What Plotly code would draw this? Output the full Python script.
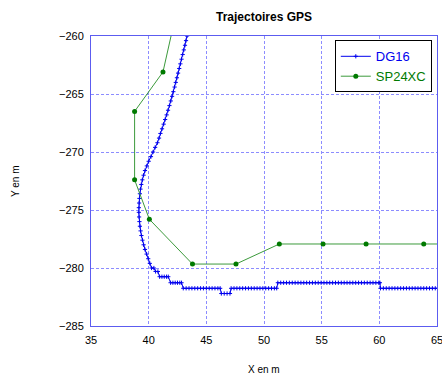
import plotly.graph_objects as go

# ---- DG16 (dense GPS track) ----
dg_curve_x = [43.42, 43.33, 43.24, 43.15, 43.05, 42.95, 42.85, 42.75, 42.65, 42.55,
              42.45, 42.35, 42.25, 42.14, 42.03, 41.92, 41.80, 41.68, 41.56, 41.43,
              41.30, 41.16, 41.02, 40.90, 40.76, 40.56, 40.38, 40.20, 40.00, 39.84,
              39.68, 39.56, 39.45, 39.36, 39.29, 39.24, 39.20, 39.17, 39.15, 39.15,
              39.17, 39.20, 39.24, 39.30, 39.37, 39.46, 39.56, 39.68, 39.82, 39.96,
              40.10, 40.25, 40.45, 40.60, 40.80, 40.95, 41.15, 41.35, 41.55, 41.70,
              41.90, 42.10, 42.30, 42.50, 42.70, 42.85]
dg_curve_y = [-259.6, -260.0, -260.4, -260.8, -261.2, -261.6, -262.0, -262.4, -262.8, -263.2,
              -263.6, -264.0, -264.4, -264.8, -265.2, -265.6, -266.0, -266.4, -266.8, -267.2,
              -267.6, -268.0, -268.4, -268.8, -269.2, -269.6, -270.0, -270.4, -270.8, -271.2,
              -271.6, -272.0, -272.4, -272.8, -273.2, -273.6, -274.0, -274.4, -274.8, -275.2,
              -275.6, -276.0, -276.4, -276.8, -277.2, -277.6, -278.0, -278.4, -278.8, -279.2,
              -279.6, -280.0, -280.0, -280.3, -280.3, -280.75, -280.75, -280.75, -280.75, -280.75,
              -281.27, -281.27, -281.27, -281.27, -281.27, -281.27]
dg_flat1_x = [43.0, 43.25, 43.5, 43.75, 44.0, 44.25, 44.5, 44.75, 45.0, 45.25, 45.5, 45.75, 46.0, 46.2]
dg_flat1_y = -281.75
dg_dip_x = [46.3, 46.55, 46.8, 47.05]
dg_dip_y = -282.2
dg_flat2_x = [47.15, 47.4, 47.65, 47.9, 48.15, 48.4, 48.65, 48.9, 49.15, 49.4, 49.65, 49.9,
              50.15, 50.4, 50.65, 50.9, 51.1]
dg_flat2_y = -281.75
dg_flat3_x = [51.2, 51.45, 51.7, 51.95, 52.2, 52.45, 52.7, 52.95, 53.2, 53.45, 53.7, 53.95,
              54.2, 54.45, 54.7, 54.95, 55.2, 55.45, 55.7, 55.95, 56.2, 56.45, 56.7, 56.95,
              57.2, 57.45, 57.7, 57.95, 58.2, 58.45, 58.7, 58.95, 59.2, 59.45, 59.7, 59.95, 60.05]
dg_flat3_y = -281.27
dg_flat4_x = [60.1, 60.35, 60.6, 60.85, 61.1, 61.35, 61.6, 61.85, 62.1, 62.35, 62.6, 62.85,
              63.1, 63.35, 63.6, 63.85, 64.1, 64.35, 64.6, 64.85, 65.1]
dg_flat4_y = -281.75

# ---- SP24XC (sparse GPS track) ----
sp_x = [42.55, 41.24, 38.78, 38.78, 40.06, 43.80, 47.57, 51.33, 55.12, 58.85, 63.85, 67.5]
sp_y = [-257.3, -263.1, -266.5, -272.4, -275.8, -279.66, -279.66, -277.93, -277.93, -277.93, -277.93, -277.93]

dg_x = list(dg_curve_x)
dg_y = list(dg_curve_y)
for xs, yv in [(dg_flat1_x, dg_flat1_y), (dg_dip_x, dg_dip_y), (dg_flat2_x, dg_flat2_y),
               (dg_flat3_x, dg_flat3_y), (dg_flat4_x, dg_flat4_y)]:
    dg_x += xs
    dg_y += [yv] * len(xs)

FONT = "Liberation Sans, Arial"

fig = go.Figure()
fig.add_trace(go.Scatter(
    x=dg_x, y=dg_y, mode="lines+markers",
    name="<span style='color:#0000ee'>DG16</span>",
    line=dict(color="#0000ee", width=1),
    marker=dict(symbol="cross-thin", size=3, line=dict(color="#0000ee", width=1)),
))
fig.add_trace(go.Scatter(
    x=sp_x, y=sp_y, mode="lines+markers",
    name="<span style='color:#007a00'>SP24XC</span>",
    line=dict(color="#3c9a3c", width=1),
    marker=dict(symbol="circle", size=5, color="#007a00"),
))

axis_common = dict(
    showgrid=True, gridcolor="#8c8cff", gridwidth=1, griddash="3px,2px",
    showline=True, linecolor="#5c5cf0", linewidth=1, mirror=True,
    zeroline=False, ticks="", automargin=False, ticklabeloverflow="allow",
    tickfont=dict(family=FONT, size=11, color="black"),
    dtick=5,
)
fig.update_xaxes(range=[35, 65], tick0=35, ticklabelstandoff=4, **axis_common)
fig.update_yaxes(range=[-285, -260], tick0=-285, ticklabelstandoff=4, **axis_common)

fig.update_layout(
    width=442, height=374,
    margin=dict(l=91, r=5, t=36, b=48, autoexpand=False),
    paper_bgcolor="white", plot_bgcolor="white",
    title=dict(text="<b>Trajectoires GPS</b>", x=(91 + 437) / 2 / 442, xanchor="center",
               y=1 - 17 / 374, yanchor="middle",
               font=dict(family=FONT, size=12, color="black")),
    legend=dict(x=0.985, xanchor="right", y=0.985, yanchor="top",
                bgcolor="white", bordercolor="black", borderwidth=1,
                font=dict(family=FONT, size=13),
                tracegroupgap=0, itemwidth=30),
    showlegend=True,
    annotations=[
        dict(text="X en m", xref="paper", yref="paper", x=0.5, y=-(362 - 326) / 290,
             xanchor="center", yanchor="top", showarrow=False,
             font=dict(family=FONT, size=10, color="black")),
        dict(text="Y en m", xref="paper", yref="paper", x=-76 / 346, y=0.5,
             xanchor="center", yanchor="middle", textangle=-90, showarrow=False,
             font=dict(family=FONT, size=10, color="black")),
    ],
)

fig.write_html("out.html", config={"displayModeBar": False},
               post_script="document.body.style.margin='0';document.body.style.overflow='hidden';")
